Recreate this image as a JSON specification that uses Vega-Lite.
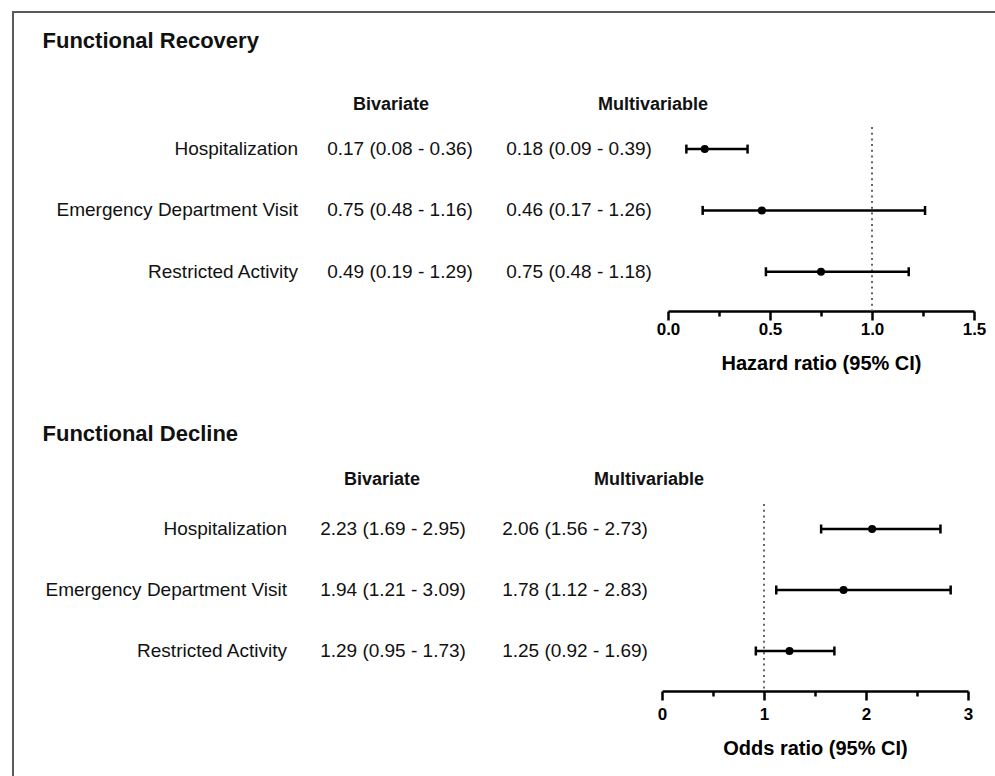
{
  "$schema": "https://vega.github.io/schema/vega-lite/v6.json",
  "padding": {"left": 12, "top": 11, "right": 0, "bottom": 0},
  "background": "white",
  "config": {"view": {"stroke": null}, "font": "Liberation Sans"},
  "datasets": {
    "rows": [
      {"sec": "recovery", "item": "Hospitalization", "biv": "0.17 (0.08 - 0.36)", "multi": "0.18 (0.09 - 0.39)", "est": 0.18, "lo": 0.09, "hi": 0.39},
      {"sec": "recovery", "item": "Emergency Department Visit", "biv": "0.75 (0.48 - 1.16)", "multi": "0.46 (0.17 - 1.26)", "est": 0.46, "lo": 0.17, "hi": 1.26},
      {"sec": "recovery", "item": "Restricted Activity", "biv": "0.49 (0.19 - 1.29)", "multi": "0.75 (0.48 - 1.18)", "est": 0.75, "lo": 0.48, "hi": 1.18},
      {"sec": "decline", "item": "Hospitalization", "biv": "2.23 (1.69 - 2.95)", "multi": "2.06 (1.56 - 2.73)", "est": 2.06, "lo": 1.56, "hi": 2.73},
      {"sec": "decline", "item": "Emergency Department Visit", "biv": "1.94 (1.21 - 3.09)", "multi": "1.78 (1.12 - 2.83)", "est": 1.78, "lo": 1.12, "hi": 2.83},
      {"sec": "decline", "item": "Restricted Activity", "biv": "1.29 (0.95 - 1.73)", "multi": "1.25 (0.92 - 1.69)", "est": 1.25, "lo": 0.92, "hi": 1.69}
    ],
    "headers": [{"h": "Bivariate"}, {"h": "Multivariable"}],
    "titles": [{"sec": "recovery", "t": "Functional Recovery"}, {"sec": "decline", "t": "Functional Decline"}],
    "refs": [{"ref": 1}]
  },
  "spacing": 0,
  "vconcat": [
    {"width": 983, "height": 2, "view": {"fill": "#5a5a5a", "stroke": null}, "data": {"values": []}, "mark": "text", "encoding": {"text": {"value": ""}}},
    {
      "spacing": 28,
      "hconcat": [
        {"width": 2, "height": 765, "view": {"fill": "#5a5a5a", "stroke": null}, "data": {"values": []}, "mark": "text", "encoding": {"text": {"value": ""}}},
        {
          "spacing": 38,
          "vconcat": [
            {
              "spacing": 0,
              "vconcat": [
                {"width": 1, "height": 70, "data": {"name": "titles"}, "transform": [{"filter": "datum.sec === 'recovery'"}],
                 "mark": {"type": "text", "align": "left", "baseline": "alphabetic", "fontSize": 22, "fontWeight": "bold", "color": "#111"},
                 "encoding": {"text": {"field": "t"}}},
                {"width": 786, "height": 43, "data": {"name": "headers"},
                 "mark": {"type": "text", "baseline": "middle", "fontSize": 18, "fontWeight": "bold", "color": "#111"},
                 "encoding": {"x": {"field": "h", "type": "nominal", "scale": {"type": "point", "domain": ["Bivariate", "Multivariable"], "padding": 1, "align": 0.666}, "axis": null}, "text": {"field": "h"}}},
                {
                  "spacing": 0,
                  "hconcat": [
                    {"width": 256, "height": 184, "data": {"name": "rows"}, "transform": [{"filter": "datum.sec === 'recovery'"}],
                     "mark": {"type": "text", "align": "right", "baseline": "middle", "fontSize": 19, "color": "#111"},
                     "encoding": {"x": {"value": "width"}, "y": {"field": "item", "type": "nominal", "scale": {"type": "point", "domain": ["Hospitalization", "Emergency Department Visit", "Restricted Activity"], "padding": 0.5, "align": 0.36}, "axis": null}, "text": {"field": "item"}}},
                    {"width": 204, "height": 184, "data": {"name": "rows"}, "transform": [{"filter": "datum.sec === 'recovery'"}],
                     "mark": {"type": "text", "align": "center", "baseline": "middle", "fontSize": 19, "color": "#111"},
                     "encoding": {"y": {"field": "item", "type": "nominal", "scale": {"type": "point", "domain": ["Hospitalization", "Emergency Department Visit", "Restricted Activity"], "padding": 0.5, "align": 0.36}, "axis": null}, "text": {"field": "biv"}}},
                    {"width": 154, "height": 184, "data": {"name": "rows"}, "transform": [{"filter": "datum.sec === 'recovery'"}],
                     "mark": {"type": "text", "align": "center", "baseline": "middle", "fontSize": 19, "color": "#111"},
                     "encoding": {"y": {"field": "item", "type": "nominal", "scale": {"type": "point", "domain": ["Hospitalization", "Emergency Department Visit", "Restricted Activity"], "padding": 0.5, "align": 0.36}, "axis": null}, "text": {"field": "multi"}}},
                    {
                      "width": 306, "height": 184,
                      "layer": [
                        {"data": {"name": "refs"}, "mark": {"type": "rule", "color": "#666", "strokeWidth": 2, "strokeDash": [2, 3.7]},
                         "encoding": {"x": {"field": "ref", "type": "quantitative", "scale": {"domain": [0, 1.5], "nice": false, "zero": false},
                           "axis": {"values": [0, 0.25, 0.5, 0.75, 1, 1.25, 1.5], "labelExpr": "datum.value % 0.5 === 0 ? format(datum.value, '.1f') : ''",
                             "title": "Hazard ratio (95% CI)", "grid": false, "domainColor": "#000", "domainWidth": 2.5, "tickColor": "#000", "tickWidth": 2.5,
                             "tickSize": {"condition": {"test": "datum.value % 0.5 !== 0", "value": 5}, "value": 9},
                             "labelFont": "Liberation Sans", "labelFontSize": 17, "labelFontWeight": "bold", "labelColor": "#000", "labelPadding": 1, "labelFlush": false, "labelOverlap": false,
                             "titleFont": "Liberation Sans", "titleFontSize": 20, "titleFontWeight": "bold", "titleColor": "#000", "titlePadding": 16}}}},
                        {"data": {"name": "rows"}, "transform": [{"filter": "datum.sec === 'recovery'"}],
                         "layer": [
                           {"mark": {"type": "rule", "color": "#000", "strokeWidth": 2.5},
                            "encoding": {"x": {"field": "lo", "type": "quantitative"}, "x2": {"field": "hi"},
                              "y": {"field": "item", "type": "nominal", "scale": {"type": "point", "domain": ["Hospitalization", "Emergency Department Visit", "Restricted Activity"], "padding": 0.5, "align": 0.36}, "axis": null}}},
                           {"mark": {"type": "tick", "color": "#000", "thickness": 2.5, "size": 9, "opacity": 1},
                            "encoding": {"x": {"field": "lo", "type": "quantitative"}, "y": {"field": "item", "type": "nominal"}}},
                           {"mark": {"type": "tick", "color": "#000", "thickness": 2.5, "size": 9, "opacity": 1},
                            "encoding": {"x": {"field": "hi", "type": "quantitative"}, "y": {"field": "item", "type": "nominal"}}},
                           {"mark": {"type": "point", "filled": true, "shape": "circle", "size": 64, "color": "#000", "opacity": 1},
                            "encoding": {"x": {"field": "est", "type": "quantitative"}, "y": {"field": "item", "type": "nominal"}}}
                         ]}
                      ]
                    }
                  ]
                }
              ]
            },
            {
              "spacing": 0,
              "vconcat": [
                {"width": 1, "height": 46, "data": {"name": "titles"}, "transform": [{"filter": "datum.sec === 'decline'"}],
                 "mark": {"type": "text", "align": "left", "baseline": "middle", "fontSize": 22, "fontWeight": "bold", "color": "#111"},
                 "encoding": {"text": {"field": "t"}}},
                {"width": 801, "height": 46, "data": {"name": "headers"},
                 "mark": {"type": "text", "baseline": "middle", "fontSize": 18, "fontWeight": "bold", "color": "#111"},
                 "encoding": {"x": {"field": "h", "type": "nominal", "scale": {"type": "point", "domain": ["Bivariate", "Multivariable"], "padding": 1, "align": 0.6367}, "axis": null}, "text": {"field": "h"}}},
                {
                  "spacing": 6,
                  "hconcat": [
                    {
                      "spacing": 0,
                      "hconcat": [
                        {"width": 245, "height": 187, "data": {"name": "rows"}, "transform": [{"filter": "datum.sec === 'decline'"}],
                         "mark": {"type": "text", "align": "right", "baseline": "middle", "fontSize": 19, "color": "#111"},
                         "encoding": {"x": {"value": "width"}, "y": {"field": "item", "type": "nominal", "scale": {"type": "point", "domain": ["Hospitalization", "Emergency Department Visit", "Restricted Activity"], "padding": 0.533, "align": 0.3846}, "axis": null}, "text": {"field": "item"}}},
                        {"width": 212, "height": 187, "data": {"name": "rows"}, "transform": [{"filter": "datum.sec === 'decline'"}],
                         "mark": {"type": "text", "align": "center", "baseline": "middle", "fontSize": 19, "color": "#111"},
                         "encoding": {"y": {"field": "item", "type": "nominal", "scale": {"type": "point", "domain": ["Hospitalization", "Emergency Department Visit", "Restricted Activity"], "padding": 0.533, "align": 0.3846}, "axis": null}, "text": {"field": "biv"}}},
                        {"width": 152, "height": 187, "data": {"name": "rows"}, "transform": [{"filter": "datum.sec === 'decline'"}],
                         "mark": {"type": "text", "align": "center", "baseline": "middle", "fontSize": 19, "color": "#111"},
                         "encoding": {"y": {"field": "item", "type": "nominal", "scale": {"type": "point", "domain": ["Hospitalization", "Emergency Department Visit", "Restricted Activity"], "padding": 0.533, "align": 0.3846}, "axis": null}, "text": {"field": "multi"}}}
                      ]
                    },
                    {
                      "width": 306, "height": 187,
                      "layer": [
                        {"data": {"name": "refs"}, "mark": {"type": "rule", "color": "#666", "strokeWidth": 2, "strokeDash": [2, 3.7]},
                         "encoding": {"x": {"field": "ref", "type": "quantitative", "scale": {"domain": [0, 3], "nice": false, "zero": false},
                           "axis": {"values": [0, 0.5, 1, 1.5, 2, 2.5, 3], "labelExpr": "datum.value % 1 === 0 ? format(datum.value, 'd') : ''",
                             "title": "Odds ratio (95% CI)", "grid": false, "domainColor": "#000", "domainWidth": 2.5, "tickColor": "#000", "tickWidth": 2.5,
                             "tickSize": {"condition": {"test": "datum.value % 1 !== 0", "value": 5}, "value": 9},
                             "labelFont": "Liberation Sans", "labelFontSize": 17, "labelFontWeight": "bold", "labelColor": "#000", "labelPadding": 6, "labelFlush": false, "labelOverlap": false,
                             "titleFont": "Liberation Sans", "titleFontSize": 20, "titleFontWeight": "bold", "titleColor": "#000", "titlePadding": 16}}}},
                        {"data": {"name": "rows"}, "transform": [{"filter": "datum.sec === 'decline'"}],
                         "layer": [
                           {"mark": {"type": "rule", "color": "#000", "strokeWidth": 2.5},
                            "encoding": {"x": {"field": "lo", "type": "quantitative"}, "x2": {"field": "hi"},
                              "y": {"field": "item", "type": "nominal", "scale": {"type": "point", "domain": ["Hospitalization", "Emergency Department Visit", "Restricted Activity"], "padding": 0.533, "align": 0.3846}, "axis": null}}},
                           {"mark": {"type": "tick", "color": "#000", "thickness": 2.5, "size": 9, "opacity": 1},
                            "encoding": {"x": {"field": "lo", "type": "quantitative"}, "y": {"field": "item", "type": "nominal"}}},
                           {"mark": {"type": "tick", "color": "#000", "thickness": 2.5, "size": 9, "opacity": 1},
                            "encoding": {"x": {"field": "hi", "type": "quantitative"}, "y": {"field": "item", "type": "nominal"}}},
                           {"mark": {"type": "point", "filled": true, "shape": "circle", "size": 64, "color": "#000", "opacity": 1},
                            "encoding": {"x": {"field": "est", "type": "quantitative"}, "y": {"field": "item", "type": "nominal"}}}
                         ]}
                      ]
                    }
                  ]
                }
              ]
            }
          ]
        }
      ]
    }
  ]
}
